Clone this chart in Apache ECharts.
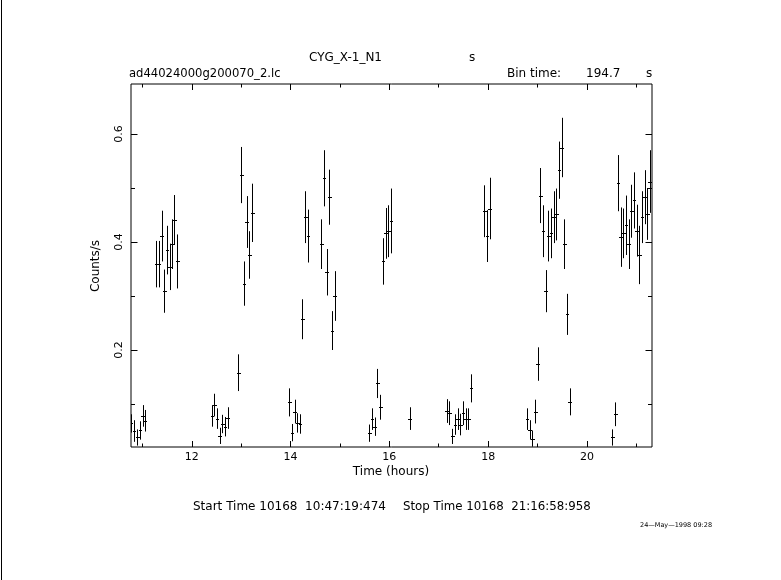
<!DOCTYPE html>
<html>
<head>
<meta charset="utf-8">
<script src="https://cdn.jsdelivr.net/npm/echarts@6/dist/echarts.min.js"></script>
<style>
html,body{margin:0;padding:0;background:#fff;}
#chart{width:781px;height:580px;}
</style>
</head>
<body>
<div id="chart"></div>
<script>
// ---- data ----
const binTimeSec = 194.7;
const timeHours = [
  10.771, 10.832, 10.899, 10.953, 11.008, 11.054,
  11.283, 11.332, 11.393, 11.445, 11.500, 11.554, 11.607, 11.648, 11.708,
  12.411, 12.457, 12.512, 12.567, 12.619, 12.674, 12.729,
  12.943, 13.004, 13.059, 13.113, 13.166, 13.227,
  13.976, 14.030, 14.085, 14.137, 14.192,
  14.239, 14.299, 14.354, 14.623, 14.678, 14.733, 14.785, 14.840, 14.895,
  15.595, 15.650, 15.704, 15.757, 15.818,
  15.872, 15.927, 15.980, 16.034,
  16.409,
  17.162, 17.214, 17.275, 17.330, 17.384, 17.437, 17.492, 17.546, 17.599, 17.654,
  17.923, 17.978, 18.032,
  18.787, 18.842, 18.893, 18.953, 19.004,
  19.056, 19.111, 19.166, 19.218, 19.273, 19.328, 19.380, 19.435, 19.490, 19.542, 19.597, 19.652,
  20.514, 20.575, 20.629, 20.684, 20.737, 20.791, 20.846, 20.899, 20.953, 21.008, 21.061, 21.115, 21.170, 21.222, 21.267
];
const countRate = [
  0.064, 0.050, 0.038, 0.051, 0.078, 0.069,
  0.359, 0.359, 0.411, 0.309, 0.385, 0.354, 0.396, 0.441, 0.364,
  0.078, 0.098, 0.073, 0.041, 0.063, 0.058, 0.074,
  0.158, 0.524, 0.323, 0.437, 0.376, 0.454,
  0.103, 0.047, 0.086, 0.065, 0.063,
  0.257, 0.446, 0.411, 0.396, 0.518, 0.344, 0.483, 0.236, 0.300,
  0.046, 0.072, 0.058, 0.138, 0.094,
  0.364, 0.416, 0.420, 0.439,
  0.073,
  0.087, 0.083, 0.040, 0.062, 0.072, 0.062, 0.083, 0.072, 0.072, 0.129,
  0.457, 0.411, 0.462,
  0.072, 0.052, 0.036, 0.086, 0.174,
  0.486, 0.420, 0.309, 0.411, 0.416, 0.446, 0.451, 0.533, 0.575, 0.396, 0.266, 0.104,
  0.038, 0.081, 0.509, 0.409, 0.416, 0.431, 0.396, 0.457, 0.477, 0.421, 0.376, 0.446, 0.483, 0.452, 0.512
];
const rateError = [
  0.017, 0.020, 0.015, 0.017, 0.020, 0.020,
  0.043, 0.043, 0.047, 0.040, 0.045, 0.043, 0.046, 0.046, 0.050,
  0.020, 0.021, 0.019, 0.015, 0.017, 0.018, 0.020,
  0.034, 0.052, 0.041, 0.048, 0.044, 0.054,
  0.026, 0.016, 0.022, 0.018, 0.018,
  0.037, 0.048, 0.049, 0.046, 0.052, 0.043, 0.051, 0.036, 0.046,
  0.016, 0.020, 0.017, 0.027, 0.023,
  0.043, 0.047, 0.048, 0.060,
  0.021,
  0.022, 0.022, 0.014, 0.019, 0.020, 0.020, 0.022, 0.020, 0.020, 0.026,
  0.048, 0.048, 0.057,
  0.020, 0.018, 0.015, 0.022, 0.031,
  0.051, 0.048, 0.039, 0.047, 0.046, 0.048, 0.048, 0.053, 0.055, 0.046, 0.038, 0.025,
  0.015, 0.022, 0.052, 0.055, 0.046, 0.055, 0.046, 0.049, 0.052, 0.048, 0.054, 0.048, 0.050, 0.048, 0.058
];
const xMajorTicks = [12, 14, 16, 18, 20];
const xMinorTicks = [11, 13, 15, 17, 19, 21];
const yMajorTicks = [0.2, 0.4, 0.6];
const yMinorTicks = [0.1, 0.3, 0.5];
const xRange = [10.77, 21.317];
const yRange = [0.0204, 0.6926];

// ---- chart ----
const binHours = binTimeSec / 3600;
const seriesData = timeHours.map((t, i) => [t, countRate[i], rateError[i]]);
const FONT = 'DejaVu Sans';

function xAxisDef(position, ticks, len, labels) {
  return {
    type: 'value', position: position, min: xRange[0], max: xRange[1],
    axisLine: {show: false},
    splitLine: {show: false},
    axisTick: {show: true, inside: true, length: len, customValues: ticks,
               lineStyle: {color: '#000', width: 1}},
    axisLabel: labels ? {show: true, customValues: ticks, margin: 5, color: '#000',
               fontFamily: FONT, fontSize: 11} : {show: false}
  };
}
function yAxisDef(position, ticks, len, labels) {
  return {
    type: 'value', position: position, min: yRange[0], max: yRange[1],
    axisLine: {show: false},
    splitLine: {show: false},
    axisTick: {show: true, inside: true, length: len, customValues: ticks,
               lineStyle: {color: '#000', width: 1}},
    axisLabel: labels ? {show: true, customValues: ticks, rotate: 90, margin: 6, color: '#000',
               fontFamily: FONT, fontSize: 11, formatter: v => v.toFixed(1)} : {show: false}
  };
}

const snap = v => Math.round(v) + 0.5;

const option = {
  animation: false,
  backgroundColor: '#fff',
  grid: {left: 131, top: 84, width: 521, height: 363, show: true,
         borderColor: '#000', borderWidth: 1, backgroundColor: 'transparent'},
  xAxis: [
    xAxisDef('bottom', xMajorTicks, 6, true),
    xAxisDef('bottom', xMinorTicks, 3.5, false),
    xAxisDef('top', xMajorTicks, 6, false),
    xAxisDef('top', xMinorTicks, 3.5, false)
  ],
  yAxis: [
    yAxisDef('left', yMajorTicks, 6.5, true),
    yAxisDef('left', yMinorTicks, 4, false),
    yAxisDef('right', yMajorTicks, 6.5, false),
    yAxisDef('right', yMinorTicks, 4, false)
  ],
  series: [{
    type: 'custom',
    xAxisIndex: 0, yAxisIndex: 0,
    clip: true,
    encode: {x: 0, y: 1},
    data: seriesData,
    renderItem: function (params, api) {
      const t = api.value(0), r = api.value(1), e = api.value(2);
      const pL = api.coord([t - binHours / 2, r]);
      const pR = api.coord([t + binHours / 2, r]);
      const pT = api.coord([t, r + e]);
      const pB = api.coord([t, r - e]);
      const cx = snap(api.coord([t, r])[0]);
      const cy = snap(pL[1]);
      return {
        type: 'group',
        children: [
          {type: 'line', shape: {x1: Math.round(pL[0]), y1: cy, x2: Math.round(pR[0]) + 1, y2: cy},
           style: {stroke: '#000', lineWidth: 1}},
          {type: 'line', shape: {x1: cx, y1: pT[1], x2: cx, y2: pB[1]},
           style: {stroke: '#000', lineWidth: 1}}
        ]
      };
    }
  }],
  graphic: [
    {type: 'line', shape: {x1: 1.5, y1: 0, x2: 1.5, y2: 580}, style: {stroke: '#000', lineWidth: 1}},
    {type: 'text', left: 309, top: 52, style: {text: 'CYG_X-1_N1', font: '12px "DejaVu Sans"', fill: '#000'}},
    {type: 'text', left: 469, top: 52, style: {text: 's', font: '12px "DejaVu Sans"', fill: '#000'}},
    {type: 'text', left: 129, top: 68, style: {text: 'ad44024000g200070_2.lc', font: '11.6px "DejaVu Sans"', fill: '#000'}},
    {type: 'text', left: 507, top: 68, style: {text: 'Bin time:', font: '12px "DejaVu Sans"', fill: '#000'}},
    {type: 'text', left: 586, top: 68, style: {text: '194.7', font: '12px "DejaVu Sans"', fill: '#000'}},
    {type: 'text', left: 646, top: 68, style: {text: 's', font: '12px "DejaVu Sans"', fill: '#000'}},
    {type: 'text', x: 391, y: 472, style: {text: 'Time (hours)', font: '12px "DejaVu Sans"', fill: '#000',
      align: 'center', verticalAlign: 'middle'}},
    {type: 'text', x: 96, y: 266, rotation: Math.PI / 2, style: {text: 'Counts/s', font: '12px "DejaVu Sans"', fill: '#000',
      align: 'center', verticalAlign: 'middle'}},
    {type: 'text', left: 193, top: 501, style: {text: 'Start Time 10168  10:47:19:474', font: '12px "DejaVu Sans"', fill: '#000'}},
    {type: 'text', left: 403, top: 501, style: {text: 'Stop Time 10168  21:16:58:958', font: '11.8px "DejaVu Sans"', fill: '#000'}},
    {type: 'text', left: 640, top: 522, style: {text: '24\u2014May\u20141998 09:28', font: '6.5px "DejaVu Sans"', fill: '#000'}}
  ]
};

const chart = echarts.init(document.getElementById('chart'), null, {renderer: 'canvas'});
chart.setOption(option);
</script>
</body>
</html>
